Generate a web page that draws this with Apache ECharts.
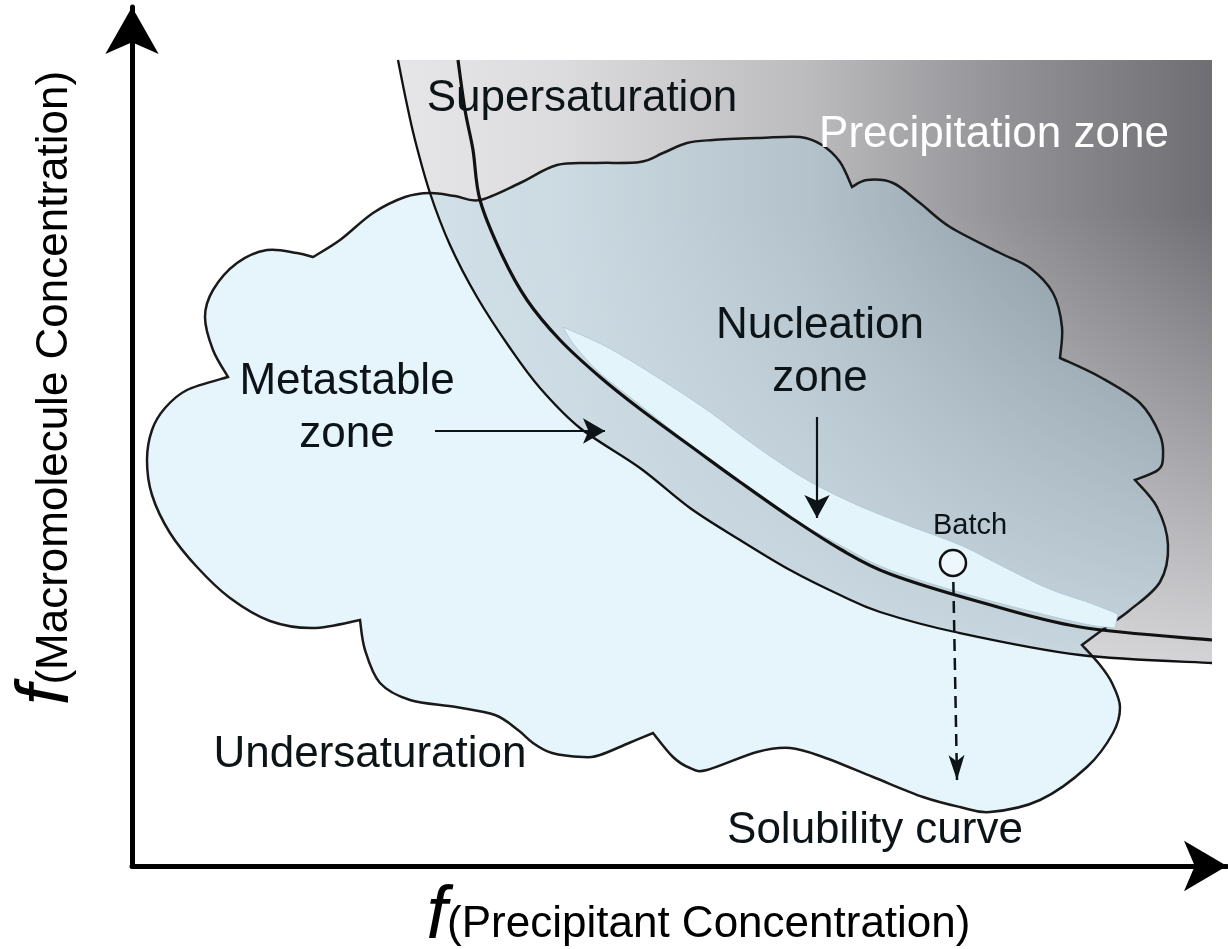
<!DOCTYPE html>
<html>
<head>
<meta charset="utf-8">
<title>Crystallization phase diagram</title>
<script src="https://cdn.jsdelivr.net/npm/echarts@6/dist/echarts.min.js"></script>
<style>
  html, body { margin: 0; padding: 0; background: #fff; }
  #main { width: 1228px; height: 949px; }
</style>
</head>
<body>
<div id="main"></div>
<script>
// diagram units, measured from the origin of the two axes
var xMax = 1095
var yMax = 859

// lower (solubility) and upper (supersaturation) curves
var solubilityCurve = [
  [266, 806], [274, 766], [283, 726], [298, 673], [318, 621], [345, 569], [378, 518],
  [408, 478], [448, 438], [508, 398], [558, 358], [608, 326], [658, 296], [708, 271],
  [748, 254], [823, 234], [948, 211], [1080, 203]
]
var supersaturationCurve = [
  [326, 806], [333, 756], [341, 716], [348, 666], [370, 611], [395, 566], [428, 526],
  [468, 489], [508, 457], [568, 413], [608, 384], [658, 349], [708, 317], [758, 292],
  [848, 264], [948, 239], [1080, 226]
]
// corners of the precipitation area (closed along the solubility curve)
var precipitationCorners = [[266, 806], [1080, 806], [1080, 203]]

// cloud outline, one array per lobe (cusp to cusp)
var lobeA = [[96, 489], [81, 516], [73, 549], [81, 576], [105, 603], [135, 616], [165, 613], [181, 609]]
var lobeB = [[181, 609], [208, 626], [241, 653], [273, 669], [298, 673], [323, 670], [348, 666], [388, 683],
  [425, 701], [465, 703], [508, 704], [531, 713], [555, 723], [581, 726], [628, 728], [668, 729],
  [690, 721], [708, 704], [720, 679]]
var lobeC = [[720, 679], [735, 686], [761, 683], [788, 663], [818, 639], [868, 613], [898, 598], [921, 573], [930, 539], [928, 508]]
var lobeD = [[928, 508], [968, 489], [1008, 463], [1028, 431], [1031, 409], [1026, 396], [1003, 386]]
var lobeE = [[1003, 386], [1025, 359], [1036, 321], [1028, 284], [998, 256], [973, 238], [950, 221]]
var lobeF = [[950, 221], [968, 201], [980, 183], [988, 159], [981, 133], [955, 99], [908, 66], [858, 54],
  [828, 59], [791, 69], [741, 89], [691, 109], [658, 118], [625, 114], [575, 96], [558, 98], [541, 109], [521, 133]]
var lobeG = [[521, 133], [497, 123], [468, 111], [451, 109], [420, 113], [401, 123], [386, 136], [363, 151],
  [324, 159], [278, 166], [248, 183], [233, 216], [228, 246]]
var lobeH = [[228, 246], [181, 238], [138, 245], [98, 268], [65, 299], [38, 333], [20, 371], [15, 406],
  [20, 436], [33, 458], [55, 476], [96, 489]]

// light streak of the nucleation zone
var streakUpper = [[431, 539], [475, 519], [525, 489], [575, 456], [625, 419], [675, 386], [725, 361],
  [775, 341], [828, 321], [868, 301], [915, 278], [958, 263], [986, 252]]
var streakLower = [[983, 238], [948, 243], [848, 268], [758, 296], [708, 321], [641, 359], [575, 408],
  [508, 461], [468, 493], [443, 520], [431, 539]]

// batch experiment: start point and end of the dashed path
var batchStart = [821, 303]
var batchEnd = [825, 86]

// arrows pointing at the zones: [from, to]
var metastableArrow = [[303, 435], [473, 435]]
var nucleationArrow = [[685, 449], [685, 348]]

// zone labels: text, x, y
var zoneLabels = [
  ['Supersaturation', 450, 767],
  ['Precipitation zone', 862, 731],
  ['Nucleation\nzone', 688, 514],
  ['Metastable\nzone', 215, 458],
  ['Undersaturation', 238, 111],
  ['Solubility curve', 743, 35],
  ['Batch', 838, 340]
]

var FONT = '"Liberation Sans", Arial, sans-serif'
var chart = echarts.init(document.getElementById('main'))

// cubic pieces of a Catmull-Rom curve through pixel points
function curveThrough(px) {
  var d = ''
  for (var i = 0; i < px.length - 1; i++) {
    var p0 = px[i - 1] || px[i], p1 = px[i], p2 = px[i + 1], p3 = px[i + 2] || p2
    var c1 = [p1[0] + (p2[0] - p0[0]) / 6, p1[1] + (p2[1] - p0[1]) / 6]
    var c2 = [p2[0] - (p3[0] - p1[0]) / 6, p2[1] - (p3[1] - p1[1]) / 6]
    d += ' C' + c1[0] + ' ' + c1[1] + ' ' + c2[0] + ' ' + c2[1] + ' ' + p2[0] + ' ' + p2[1]
  }
  return d
}

function straightThrough(px) {
  var d = ''
  for (var i = 1; i < px.length; i++) d += ' L' + px[i][0] + ' ' + px[i][1]
  return d
}

function region(pieces, style) {
  return function (params, api) {
    var d = ''
    pieces.forEach(function (piece, i) {
      var px = piece.pts.map(function (p) { return api.coord(p) })
      d += (i === 0 ? 'M' : ' L') + px[0][0] + ' ' + px[0][1]
      d += piece.smooth ? curveThrough(px) : straightThrough(px)
    })
    return { type: 'path', shape: { pathData: d + ' Z' }, style: style }
  }
}

function curve(pts, width) {
  return function (params, api) {
    var px = pts.map(function (p) { return api.coord(p) })
    return {
      type: 'path',
      shape: { pathData: 'M' + px[0][0] + ' ' + px[0][1] + curveThrough(px) },
      style: { fill: null, stroke: '#111', lineWidth: width }
    }
  }
}

var precipitationPieces = [
  { pts: precipitationCorners, smooth: false },
  { pts: solubilityCurve.slice().reverse(), smooth: true }
]
// grey darkens to the right...
var grayFill = {
  type: 'linear', x: 0, y: 0, x2: 1, y2: 0,
  colorStops: [
    { offset: 0, color: '#e6e6e8' },
    { offset: 0.2, color: '#dcdcde' },
    { offset: 0.5, color: '#bcbcbf' },
    { offset: 0.75, color: '#929296' },
    { offset: 1, color: '#6e6e73' }
  ]
}
// ...and fades back to light towards the bottom
var grayFade = {
  type: 'linear', x: 0, y: 0.25, x2: 0, y2: 1,
  colorStops: [
    { offset: 0, color: 'rgba(226,226,229,0)' },
    { offset: 1, color: 'rgba(226,226,229,0.88)' }
  ]
}

var nameRich = {
  f: { fontSize: 74, fontStyle: 'italic', fontFamily: FONT, color: '#000', verticalAlign: 'middle', lineHeight: 60 },
  t: { fontSize: 44, fontFamily: FONT, color: '#000', verticalAlign: 'bottom', lineHeight: 60 }
}

chart.setOption({
  animation: false,
  grid: { left: 132, right: 1, top: 7, bottom: 83, containLabel: false, outerBoundsMode: 'none' },
  xAxis: {
    type: 'value', min: 0, max: xMax,
    axisLine: { lineStyle: { color: '#000', width: 5 }, symbol: ['none', 'arrow'], symbolSize: [38, 43] },
    axisTick: { show: false }, axisLabel: { show: false }, splitLine: { show: false },
    name: '{f|f}{t|(Precipitant Concentration)}',
    nameLocation: 'middle', nameGap: 21,
    nameTextStyle: { padding: [0, 0, 0, 38], rich: nameRich }
  },
  yAxis: {
    type: 'value', min: 0, max: yMax,
    axisLine: { lineStyle: { color: '#000', width: 5 }, symbol: ['none', 'arrow'], symbolSize: [40, 47] },
    axisTick: { show: false }, axisLabel: { show: false }, splitLine: { show: false },
    name: '{f|f}{t|(Macromolecule Concentration)}',
    nameLocation: 'middle', nameRotate: 90, nameGap: 55,
    nameTextStyle: { padding: [0, 0, 0, 97], rich: nameRich }
  },
  series: [
    {
      name: 'Precipitation zone', type: 'custom', silent: true, data: [[0, 0]],
      renderItem: region(precipitationPieces, { fill: grayFill })
    },
    {
      name: 'Precipitation fade', type: 'custom', silent: true, data: [[0, 0]],
      renderItem: region(precipitationPieces, { fill: grayFade })
    },
    {
      name: 'Cloud', type: 'custom', silent: true, data: [[0, 0]],
      renderItem: region([lobeA, lobeB, lobeC, lobeD, lobeE, lobeF, lobeG, lobeH].map(function (l) {
        return { pts: l, smooth: true }
      }), { fill: 'rgba(159,216,240,0.26)', stroke: '#1a1a1a', lineWidth: 2.5 })
    },
    {
      name: 'Nucleation streak', type: 'custom', silent: true, data: [[0, 0]],
      renderItem: region([
        { pts: streakUpper, smooth: true },
        { pts: streakLower, smooth: true }
      ], { fill: '#e4f4fb', stroke: 'rgba(170,200,212,0.8)', lineWidth: 1 })
    },
    {
      name: 'Solubility curve', type: 'custom', silent: true, data: [[0, 0]],
      renderItem: curve(solubilityCurve, 2.3)
    },
    {
      name: 'Supersaturation curve', type: 'custom', silent: true, data: [[0, 0]],
      renderItem: curve(supersaturationCurve, 3.2)
    },
    {
      name: 'Arrows', type: 'line', data: [], silent: true,
      markLine: {
        silent: true, animation: false, label: { show: false },
        symbol: ['none', 'arrow'],
        data: [
          [{ coord: metastableArrow[0], lineStyle: { color: '#0c1418', width: 2.2, type: 'solid' } },
           { coord: metastableArrow[1], symbol: 'arrow', symbolSize: [19, 22] }],
          [{ coord: nucleationArrow[0], lineStyle: { color: '#0c1418', width: 2.2, type: 'solid' } },
           { coord: nucleationArrow[1], symbol: 'arrow', symbolSize: [19, 23] }],
          [{ coord: batchStart, lineStyle: { color: '#0c1418', width: 2.5, type: [12, 7] } },
           { coord: batchEnd, symbol: 'arrow', symbolSize: [12, 25] }]
        ]
      }
    },
    {
      name: 'Batch', type: 'scatter', data: [batchStart], symbol: 'circle', symbolSize: 26,
      silent: true, z: 5,
      itemStyle: { color: '#eef8fc', borderColor: '#111', borderWidth: 2.5, opacity: 1 }
    },
    {
      name: 'Labels', type: 'scatter', silent: true, z: 6, symbolSize: 1,
      itemStyle: { color: 'rgba(0,0,0,0)', opacity: 1 },
      data: zoneLabels.map(function (l) {
        var item = { value: [l[1], l[2]], label: { formatter: l[0] } }
        if (l[0] === 'Precipitation zone') item.label.color = '#fff'
        if (l[0] === 'Batch') item.label.fontSize = 29
        return item
      }),
      label: {
        show: true, position: 'inside', align: 'center', verticalAlign: 'middle',
        fontSize: 44, lineHeight: 53, fontFamily: FONT, color: '#0c1418', opacity: 1
      }
    }
  ]
})
</script>
</body>
</html>
